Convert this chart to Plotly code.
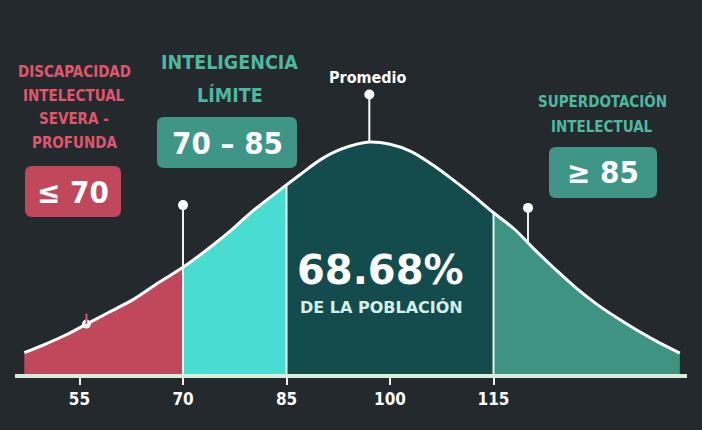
import plotly.graph_objects as go

# ---------------- data ----------------
curve_iq = [47, 50, 53, 56, 59, 63, 66, 70, 73, 77, 80, 85, 87, 90, 93, 97,
            100, 103, 106, 109, 112, 115, 118, 121, 124, 127, 130, 133, 136, 139, 142]
curve_h = [0.092, 0.128, 0.168, 0.215, 0.262, 0.325, 0.385, 0.46, 0.525, 0.62, 0.70, 0.815,
           0.86, 0.925, 0.97, 1.0, 0.99, 0.96, 0.905, 0.84, 0.77, 0.695, 0.625, 0.535,
           0.45, 0.37, 0.3, 0.24, 0.185, 0.135, 0.09]
bounds = [70, 85, 115]
region_colors = ["#C0485A", "#48DDD0", "#144B4D", "#3E9383"]
tick_labels = ["55", "70", "85", "100", "115"]
tick_values = [55, 70, 85, 100, 115]
pin_x = [70, 97, 120]
pin_top = [0.728, 1.205, 0.716]
small_dot_x = [56]
red_title = ["DISCAPACIDAD", "INTELECTUAL", "SEVERA -", "PROFUNDA"]
mid_title = ["INTELIGENCIA", "LÍMITE"]
right_title = ["SUPERDOTACIÓN", "INTELECTUAL"]
red_box = "≤ 70"
mid_box = "70 – 85"
right_box = "≥ 85"
mean_label = "Promedio"
center_value = "68.68%"
center_sub = "DE LA POBLACIÓN"

# ---------------- layout helpers ----------------
W, H = 702, 430
L, R, T, B = 15, 15, 0, 56
PW, PH = W - L - R, H - T - B
YMAX = PH / 232.0
XMIN = 45.65
XMAX = XMIN + PW / 6.9

BG = "#24292E"
NARROW = "DejaVu Sans Condensed, Liberation Sans Narrow, Roboto, sans-serif"
WIDE = "DejaVu Sans, Open Sans, sans-serif"


def px(x):
    return (x - L) / PW


def py(y):
    return (H - B - y) / PH


def rbox(x0, y0, x1, y1, r=7):
    return (f"M {px(x0 + r)},{py(y0)} L {px(x1 - r)},{py(y0)} "
            f"Q {px(x1)},{py(y0)} {px(x1)},{py(y0 + r)} L {px(x1)},{py(y1 - r)} "
            f"Q {px(x1)},{py(y1)} {px(x1 - r)},{py(y1)} L {px(x0 + r)},{py(y1)} "
            f"Q {px(x0)},{py(y1)} {px(x0)},{py(y1 - r)} L {px(x0)},{py(y0 + r)} "
            f"Q {px(x0)},{py(y0)} {px(x0 + r)},{py(y0)} Z")


def curve_at(x):
    for i in range(len(curve_iq) - 1):
        if curve_iq[i] <= x <= curve_iq[i + 1]:
            t = (x - curve_iq[i]) / (curve_iq[i + 1] - curve_iq[i])
            return curve_h[i] + t * (curve_h[i + 1] - curve_h[i])
    return 0


fig = go.Figure()

# filled regions
edges = [curve_iq[0]] + bounds + [curve_iq[-1]]
for k in range(4):
    lo, hi = edges[k], edges[k + 1]
    xs = [x for x in curve_iq if lo <= x <= hi]
    ys = [curve_h[curve_iq.index(x)] for x in xs]
    fig.add_trace(go.Scatter(x=xs, y=ys, mode="lines", fill="tozeroy",
                             fillcolor=region_colors[k],
                             line=dict(width=0, shape="spline", color=region_colors[k]),
                             hoverinfo="skip", showlegend=False))

# boundary lines
shapes = []
shapes.append(dict(type="line", xref="x", yref="y", x0=bounds[0], x1=bounds[0], y0=0,
                   y1=pin_top[0], line=dict(color="#E8F3EE", width=2)))
for b in bounds[1:]:
    shapes.append(dict(type="line", xref="x", yref="y", x0=b, x1=b, y0=0,
                       y1=curve_at(b), line=dict(color="#E8F3EE", width=2)))
# pins
shapes.append(dict(type="line", xref="x", yref="y", x0=pin_x[1], x1=pin_x[1],
                   y0=curve_at(pin_x[1]), y1=pin_top[1], line=dict(color="white", width=2)))
shapes.append(dict(type="line", xref="x", yref="y", x0=pin_x[2], x1=pin_x[2],
                   y0=curve_at(pin_x[2]), y1=pin_top[2], line=dict(color="#E8F3EE", width=2)))
shapes.append(dict(type="line", xref="x", yref="y", x0=small_dot_x[0], x1=small_dot_x[0],
                   y0=curve_at(small_dot_x[0]), y1=curve_at(small_dot_x[0]) + 0.045,
                   line=dict(color="#E0506A", width=2)))

# white curve
fig.add_trace(go.Scatter(x=curve_iq, y=curve_h, mode="lines",
                         line=dict(color="white", width=3, shape="spline"),
                         hoverinfo="skip", showlegend=False))
# pin dots
fig.add_trace(go.Scatter(x=pin_x, y=pin_top, mode="markers",
                         marker=dict(color="white", size=10), hoverinfo="skip",
                         showlegend=False))
fig.add_trace(go.Scatter(x=small_dot_x, y=[curve_at(x) for x in small_dot_x], mode="markers",
                         marker=dict(color="white", size=9), hoverinfo="skip",
                         showlegend=False))

# boxes
shapes.append(dict(type="path", xref="paper", yref="paper", path=rbox(25, 166, 121, 217),
                   fillcolor="#C0485A", line=dict(width=0)))
shapes.append(dict(type="path", xref="paper", yref="paper", path=rbox(157, 117, 297, 168),
                   fillcolor="#3F9686", line=dict(width=0)))
shapes.append(dict(type="path", xref="paper", yref="paper", path=rbox(549, 147, 657, 198),
                   fillcolor="#3F9686", line=dict(width=0)))

ann = []


def add_text(text, x, y, size, color, family=NARROW, weight="bold"):
    ann.append(dict(text=text, x=px(x), y=py(y), xref="paper", yref="paper",
                    xanchor="center", yanchor="middle", showarrow=False,
                    font=dict(size=size, color=color, family=family, weight=weight)))


for i, t in enumerate(red_title):
    add_text(t, 74, 72 + i * 23.7, 15, "#E0566B")
add_text(red_box, 73, 192, 31, "white")
for i, t in enumerate(mid_title):
    add_text(t, 230, 62 + i * 33, 19.5, "#4DB8A2")
add_text(mid_box, 227, 143, 31, "white")
add_text(mean_label, 368, 77, 16, "white")
for i, t in enumerate(right_title):
    add_text(t, 602, 102 + i * 25, 15, "#4DB8A2")
add_text(right_box, 603, 172, 31, "white")
add_text(center_value, 381, 270, 40, "white", family=WIDE)
add_text(center_sub, 382, 307, 16, "#D4EFE6", family=WIDE)

fig.update_layout(
    width=W, height=H, margin=dict(l=L, r=R, t=T, b=B),
    paper_bgcolor=BG, plot_bgcolor=BG, showlegend=False,
    shapes=shapes, annotations=ann,
    xaxis=dict(range=[XMIN, XMAX], showgrid=False, zeroline=False,
               showline=True, linecolor="#D9EEDB", linewidth=4,
               tickmode="array", tickvals=tick_values, ticktext=tick_labels,
               ticks="outside", ticklen=7, tickwidth=2, tickcolor="#E8F3EE",
               tickfont=dict(size=17, color="white", family=NARROW, weight="bold"),
               fixedrange=True),
    yaxis=dict(range=[0, YMAX], visible=False, fixedrange=True),
)

fig.write_html("out.html")
